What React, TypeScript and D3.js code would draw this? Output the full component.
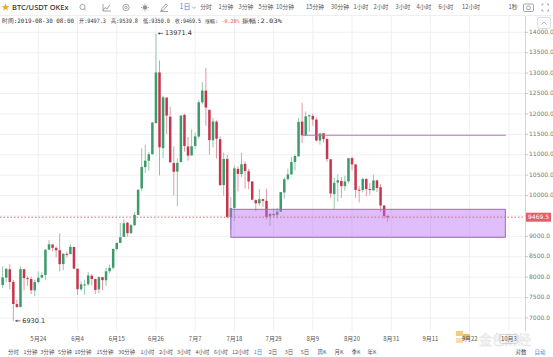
import React from "react";
import * as d3 from "d3";

const dates = [
  "2019-05-14","2019-05-15","2019-05-16","2019-05-17","2019-05-18","2019-05-19","2019-05-20","2019-05-21","2019-05-22","2019-05-23",
  "2019-05-24","2019-05-25","2019-05-26","2019-05-27","2019-05-28","2019-05-29","2019-05-30","2019-05-31","2019-06-01","2019-06-02",
  "2019-06-03","2019-06-04","2019-06-05","2019-06-06","2019-06-07","2019-06-08","2019-06-09","2019-06-10","2019-06-11","2019-06-12",
  "2019-06-13","2019-06-14","2019-06-15","2019-06-16","2019-06-17","2019-06-18","2019-06-19","2019-06-20","2019-06-21","2019-06-22",
  "2019-06-23","2019-06-24","2019-06-25","2019-06-26","2019-06-27","2019-06-28","2019-06-29","2019-06-30","2019-07-01","2019-07-02",
  "2019-07-03","2019-07-04","2019-07-05","2019-07-06","2019-07-07","2019-07-08","2019-07-09","2019-07-10","2019-07-11","2019-07-12",
  "2019-07-13","2019-07-14","2019-07-15","2019-07-16","2019-07-17","2019-07-18","2019-07-19","2019-07-20","2019-07-21","2019-07-22",
  "2019-07-23","2019-07-24","2019-07-25","2019-07-26","2019-07-27","2019-07-28","2019-07-29","2019-07-30","2019-07-31","2019-08-01",
  "2019-08-02","2019-08-03","2019-08-04","2019-08-05","2019-08-06","2019-08-07","2019-08-08","2019-08-09","2019-08-10","2019-08-11",
  "2019-08-12","2019-08-13","2019-08-14","2019-08-15","2019-08-16","2019-08-17","2019-08-18","2019-08-19","2019-08-20","2019-08-21",
  "2019-08-22","2019-08-23","2019-08-24","2019-08-25","2019-08-26","2019-08-27","2019-08-28","2019-08-29","2019-08-30"
];
const opens = [
  7807,7989,8194,7886,7341,7267,8196,7977,7956,7677,
  7881,7991,8055,8675,8802,8718,8662,8321,8573,8565,
  8741,8210,7704,7819,7826,8036,7954,7701,8002,7924,
  8146,8231,8690,8841,8989,9335,9078,9274,9525,10175,
  10696,10853,11012,11778,13017,11162,12400,11931,10796,10588,
  10818,11976,11203,10982,11217,11446,12284,12571,12100,11354,
  11813,11381,10257,10896,9471,9698,10654,10525,10777,10596,
  10347,9887,9809,9913,9871,9491,9548,9522,9604,10077,
  10402,10519,10821,10960,11812,11477,11954,11953,11861,11349,
  11528,11385,10889,10038,10319,10358,10233,10350,10917,10764,
  10142,10136,10407,10160,10126,10373,10203,9756,9497.3
];
const highs = [
  8268,8216,8320,7929,7447,8262,8196,8032,8016,7943,
  8140,8117,8687,8908,8807,8755,9074,8586,8625,8809,
  8743,8210,7901,7937,8126,8073,7965,8031,8002,8233,
  8311,8697,8858,9335,9416,9348,9299,9594,10144,11157,
  11246,11065,11804,13971.4,13311,12445,12400,12178,11207,10912,
  11969,12006,11436,11620,11541,12345,12779,13129,12101,11905,
  11841,11451,11052,10996,9963,10736,10717,11048,10841,10651,
  10347,9908,10155,9916,10167,9575,9681,9701,10085,10446,
  10657,10946,11010,11895,12273,12061,11990,12009,11915,11530,
  11528,11420,10889,10437,10524,10452,10487,10917,10947,10764,
  10232,10442,10419,10305,10512,10380,10279,9756,9539.8
];
const lows = [
  7733,7871,7705,6930.1,7251,7267,7678,7784,7586,7533,
  7843,7965,7924,8668,8634,8482,8140,8172,8481,8561,
  8204,7564,7668,7571,7788,7795,7587,7609,7680,7789,
  8094,8185,8657,8840,8988,8991,9070,9256,9525,10107,
  10556,10610,11012,11755,10491,10914,11508,10800,10006,9737,
  10818,11077,10856,10982,11148,11393,12233,11710,11002,11179,
  10908,10234,9992,9448,9163,9376,10102,10451,10171,10154,
  9884,9614,9749,9717,9411,9253,9472,9437,9598,9923,
  10371,10503,10620,10960,11290,11450,11561,11713,11323,11248,
  11300,10830,9940,9675,9855,9945,10119,10298,10618,9944,
  9831,10078,9983,10008,10126,10087,9602,9421,9350
];
const closes = [
  7994,8206,7884,7343,7271,8197,7978,7963,7680,7881,
  7987,8052,8673,8805,8719,8659,8319,8574,8564,8742,
  8208,7707,7824,7822,8043,7955,7688,8000,7927,8145,
  8230,8693,8838,8979,9320,9081,9273,9527,10144,10701,
  10855,11011,11790,13016,11182,12407,11959,10817,10583,10801,
  11961,11215,10978,11208,11451,12285,12573,12156,11358,11815,
  11392,10256,10896,9478,9693,10666,10530,10767,10599,10343,
  9900,9811,9911,9870,9477,9552,9519,9607,10085,10399,
  10519,10821,10970,11805,11478,11941,11966,11862,11347,11523,
  11382,10895,10051,10311,10374,10231,10345,10916,10764,10138,
  10131,10407,10159,10138,10370,10185,9754,9497,9469.5
];

const priceTicks = [7000, 7500, 8000, 8500, 9000, 9500, 10000, 10500, 11000, 11500, 12000, 12500, 13000, 13500, 14000];
const tickDates = ["2019-05-24","2019-06-04","2019-06-15","2019-06-26","2019-07-07","2019-07-18","2019-07-29","2019-08-09","2019-08-20","2019-08-31","2019-09-11","2019-09-22","2019-10-03"];
const tickLabels = ["5月24","6月4","6月15","6月26","7月7","7月18","7月29","8月9","8月20","8月31","9月11","9月22","10月3"];

const topPeriods = ["分时","1分钟","3分钟","5分钟","10分钟","15分钟","30分钟","1小时","2小时","3小时","4小时","6小时","12小时"];
const bottomPeriods = ["分时","1分钟","3分钟","5分钟","10分钟","15分钟","30分钟","1小时","2小时","3小时","4小时","6小时","12小时","1日","2日","3日","5日","周K","月K","季K","年K"];
const infoTexts = ["时间:2019-08-30 08:00","开:9497.3","高:9539.8","低:9350.0","收:9469.5","振幅:2.03%"];
const changeLabel = "涨幅:";
const changeValue = "-0.28%";

const lastPrice = 9469.5;
const highPrice = 13971.4;
const lowPrice = 6930.1;
const resistance = 11478;
const zoneTop = 9663;
const zoneBottom = 8977;
const zoneStart = "2019-07-17";
const zoneEnd = "2019-10-02";
const lineStart = "2019-08-06";
const lineEnd = "2019-10-03";

const GREEN = "#3d9a6b";
const RED = "#c6354c";
const GREEN_W = "#93c9ab";
const RED_W = "#e09aa6";
const CJK = "'Noto Sans CJK SC', 'Noto Sans', sans-serif";

export default function App() {
  const W = 553, H = 357;
  const plotRight = 525;
  const x = d3.scaleUtc().domain([new Date("2019-05-24"), new Date("2019-10-03")]).range([38.3, 508.9]);
  const y = d3.scaleLinear().domain([7000, 14000]).range([318, 32.3]);
  const bw = 2.5;

  const topX = [206, 226, 246, 266, 285, 315, 340, 361, 381, 403, 424, 446, 471];
  const botX = [13.5, 30.5, 47.5, 65, 83, 105, 126.7, 147.5, 166, 184, 202.5, 221, 240.5, 258, 273, 289, 305, 322, 339, 356, 372];
  const infoX = [2, 79, 111, 143, 175, 242];
  const infoW = [72, 27, 27, 27, 26, 40];

  const hiIdx = highs.indexOf(highPrice);
  const loIdx = lows.indexOf(lowPrice);
  const hx = x(new Date(dates[hiIdx]));
  const lx = x(new Date(dates[loIdx]));

  return (
    <div style={{ position: "fixed", left: 0, top: 0 }}>
      <svg width={W} height={H} style={{ display: "block", background: "#fff" }}>
        {/* grid */}
        <g>
          {priceTicks.map((p) => (
            <line key={"h" + p} x1={0} x2={plotRight} y1={y(p)} y2={y(p)} stroke="#f0f0f3" strokeWidth={1} />
          ))}
          {tickDates.map((d) => (
            <line key={"v" + d} x1={x(new Date(d))} x2={x(new Date(d))} y1={16} y2={331} stroke="#f0f0f3" strokeWidth={1} />
          ))}
        </g>

        {/* candles */}
        <g>
          {dates.map((d, i) => {
            const cx = x(new Date(d));
            const up = closes[i] >= opens[i];
            const top = y(Math.max(opens[i], closes[i]));
            const bot = y(Math.min(opens[i], closes[i]));
            return (
              <g key={d}>
                <line x1={cx} x2={cx} y1={y(highs[i])} y2={y(lows[i])} stroke={up ? GREEN_W : RED_W} strokeWidth={1} />
                <rect x={cx - bw / 2} y={top} width={bw} height={Math.max(1, bot - top)} fill={up ? GREEN : RED} />
              </g>
            );
          })}
        </g>

        {/* drawings */}
        <line x1={x(new Date(lineStart))} x2={x(new Date(lineEnd)) - 3} y1={y(resistance)} y2={y(resistance)} stroke="#b072c0" strokeWidth={1} />
        <rect x={x(new Date(zoneStart))} y={y(zoneTop)} width={x(new Date(zoneEnd)) - x(new Date(zoneStart))} height={y(zoneBottom) - y(zoneTop)}
          fill="rgba(185,110,245,0.45)" stroke="#9a6cc4" strokeWidth={1} />

        {/* last price line */}
        <line x1={0} x2={plotRight} y1={y(lastPrice)} y2={y(lastPrice)} stroke="#e0707a" strokeWidth={1} strokeDasharray="1.5,2" />

        {/* high / low markers */}
        <g fontFamily="'DejaVu Sans', sans-serif" fontSize={6.5} fill="#333">
          <line x1={hx + 2} x2={hx + 7} y1={y(highPrice)} y2={y(highPrice)} stroke="#555" strokeWidth={0.8} />
          <path d={`M${hx + 2},${y(highPrice)} l2,-1.3 v2.6 z`} fill="#555" />
          <text x={hx + 9} y={y(highPrice)} dominantBaseline="middle">{highPrice.toFixed(1)}</text>
          <line x1={lx + 2} x2={lx + 7} y1={y(lowPrice)} y2={y(lowPrice)} stroke="#555" strokeWidth={0.8} />
          <path d={`M${lx + 2},${y(lowPrice)} l2,-1.3 v2.6 z`} fill="#555" />
          <text x={lx + 9} y={y(lowPrice)} dominantBaseline="middle">{lowPrice.toFixed(1)}</text>
        </g>

        {/* price axis */}
        <line x1={plotRight + 0.5} x2={plotRight + 0.5} y1={16} y2={331} stroke="#d6d6d6" strokeWidth={1} />
        <g fontFamily="'DejaVu Sans', sans-serif" fontSize={6} fill="#777">
          {priceTicks.map((p) => (
            <g key={"t" + p}>
              <line x1={plotRight} x2={plotRight + 3} y1={y(p)} y2={y(p)} stroke="#bbb" strokeWidth={0.8} />
              <text x={plotRight + 4} y={y(p)} dominantBaseline="middle">{p.toFixed(1)}</text>
            </g>
          ))}
        </g>
        <rect x={plotRight + 1} y={y(lastPrice) - 4.5} width={25} height={9} fill="#e35d6a" />
        <text x={plotRight + 3} y={y(lastPrice)} dominantBaseline="middle" fontFamily="'DejaVu Sans', sans-serif" fontSize={6} fill="#fff">{lastPrice.toFixed(1)}</text>

        {/* collapse button */}
        <rect x={537.5} y={17.5} width={13} height={11} rx={2} fill="#fff" stroke="#ddd" />
        <path d="M541.5,24.5 l2.5,-2.5 l2.5,2.5" fill="none" stroke="#999" strokeWidth={0.8} />

        {/* watermark (logo) */}
        <g opacity={0.85}>
          <rect x={456} y={331} width={7} height={5} fill="#f2c46a" />
          <rect x={463} y={334} width={7} height={6} fill="#eeb23a" />
          <rect x={456} y={338} width={7} height={5} fill="#f6d99a" />
          <text x={479} y={344} fontFamily={CJK} fontSize={13} fill="none" stroke="#e2e2e2" strokeWidth={0.6}>金色财经</text>
        </g>

        {/* x axis labels */}
        <g fontFamily={CJK} fontSize={6} fill="#555" textAnchor="middle">
          {tickDates.map((d, i) => (
            <text key={"xl" + d} x={x(new Date(d))} y={339} dominantBaseline="middle">{tickLabels[i]}</text>
          ))}
        </g>
        <rect x={x(new Date(tickDates[12])) - 9} y={334.5} width={18} height={9} rx={1.5} fill="none" stroke="#ccc" strokeWidth={0.8} />

        {/* top toolbar */}
        <line x1={0} x2={W} y1={15.5} y2={15.5} stroke="#efefef" />
        <path d="M5.5,3.5 L6.6,6 L9.2,6.2 L7.2,7.9 L7.9,10.5 L5.5,9.1 L3.1,10.5 L3.8,7.9 L1.8,6.2 L4.4,6 Z" fill="#f0a92b" />
        <text x={12} y={7.5} dominantBaseline="middle" fontFamily="'Noto Sans', sans-serif" fontSize={7.5} fontWeight={500} fill="#333">BTC/USDT OKEx</text>
        <g stroke="#8a8f99" fill="none" strokeWidth={0.8}>
          <circle cx={82.5} cy={7} r={2.6} />
          <line x1={84.4} y1={8.9} x2={86} y2={10.5} />
          <path d="M103,10.5 L105,7.5 L107,9 L110,4.5" />
          <path d="M103,4 L103,11 L111,11" />
          <circle cx={126} cy={7.5} r={3.2} />
          <circle cx={126} cy={7.5} r={1.2} />
          <circle cx={145} cy={7.5} r={1.8} fill="#8a8f99" />
          {[0, 45, 90, 135, 180, 225, 270, 315].map((a) => (
            <line key={a} x1={145 + 2.8 * Math.cos((a * Math.PI) / 180)} y1={7.5 + 2.8 * Math.sin((a * Math.PI) / 180)}
              x2={145 + 4 * Math.cos((a * Math.PI) / 180)} y2={7.5 + 4 * Math.sin((a * Math.PI) / 180)} />
          ))}
          <path d="M161,11 L162,8.5 L166,4 L167.5,5.5 L163.5,10 Z" />
          <line x1={160} y1={11.5} x2={168} y2={11.5} />
        </g>
        <text x={185} y={7.5} dominantBaseline="middle" textAnchor="middle" fontFamily={CJK} fontSize={7} fill="#3d7fe0">1日</text>
        <path d="M192,6.5 l1.8,2 l1.8,-2" fill="none" stroke="#8a8f99" strokeWidth={0.7} />
        <g fontFamily={CJK} fontSize={5.8} fill="#555" textAnchor="middle">
          {topPeriods.map((t, i) => (
            <text key={"tp" + t} x={topX[i]} y={7.5} dominantBaseline="middle">{t}</text>
          ))}
          <text x={513} y={7.5} dominantBaseline="middle">1秒</text>
        </g>
        <g stroke="#8a8f99" fill="none" strokeWidth={0.8}>
          <rect x={523.5} y={4} width={10} height={7.5} rx={1.2} />
          <circle cx={528.5} cy={7.8} r={2} />
          <path d="M542,5.5 v-1.5 h1.5 M547,4 h1.5 v1.5 M548.5,9.5 v1.5 h-1.5 M543.5,11 h-1.5 v-1.5" />
        </g>

        {/* info line */}
        <g fontFamily="'DejaVu Sans Mono', monospace" fontSize={6} fill="#333">
          {infoTexts.map((t, i) => (
            <text key={"in" + i} x={infoX[i]} y={21.5} dominantBaseline="middle" textLength={infoW[i]} lengthAdjust="spacingAndGlyphs">{t}</text>
          ))}
        </g>
        <g fontFamily="'DejaVu Sans Mono', monospace" fontSize={5}>
          <text x={205} y={21.5} dominantBaseline="middle" fill="#333">{changeLabel}</text>
          <text x={221.5} y={21.5} dominantBaseline="middle" fill="#e0414f">{changeValue}</text>
        </g>

        {/* bottom bar */}
        <g fontFamily={CJK} fontSize={5.4} textAnchor="middle">
          {bottomPeriods.map((t, i) => (
            <text key={"bp" + i} x={botX[i]} y={352.5} dominantBaseline="middle" fill={t === "1日" ? "#3d7fe0" : "#555"}>{t}</text>
          ))}
          <text x={521} y={352.5} dominantBaseline="middle" fill="#444">对数</text>
          <text x={540} y={352.5} dominantBaseline="middle" fill="#3d7fe0">自动</text>
        </g>
      </svg>
    </div>
  );
}
